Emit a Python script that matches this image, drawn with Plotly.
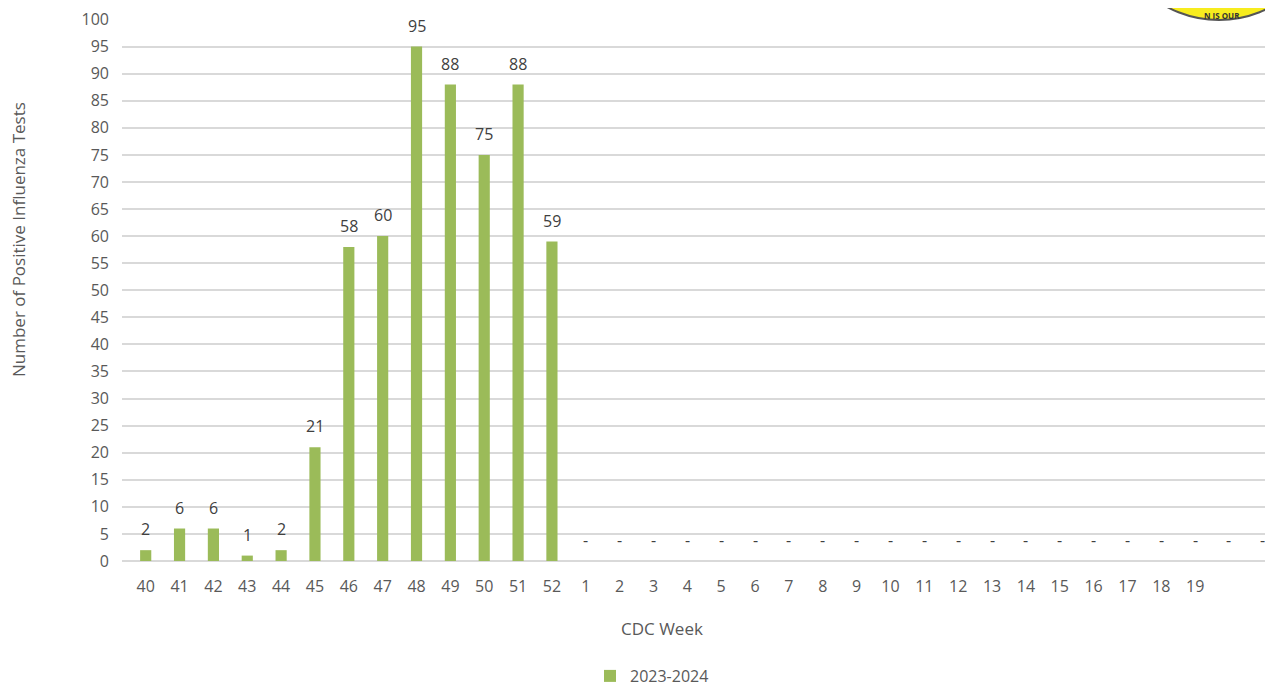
import plotly.graph_objects as go

weeks = ["40","41","42","43","44","45","46","47","48","49","50","51","52",
         "1","2","3","4","5","6","7","8","9","10","11","12","13","14","15","16","17","18","19"," ","  "]
values = [2,6,6,1,2,21,58,60,95,88,75,88,59] + [0]*21
labels = [str(v) if v > 0 else "-" for v in values]
series_name = "2023-2024"

# page body has an 8px margin, so the figure is drawn at (8, 8)
OFF = 8
W, H = 1273 - OFF, 686 - OFF
L, R, T, B = 122 - OFF, 0, 19 - OFF, 125
pw, ph = W - L - R, H - T - B

def px_x(x):  # x in reference (window) pixels
    return (x - OFF - L) / pw

def px_y(y):
    return (H - B - (y - OFF)) / ph

grey = "#595959"
font = "Open Sans, Liberation Sans, sans-serif"

fig = go.Figure()
fig.add_trace(go.Bar(
    x=list(range(len(weeks))), y=values, name=series_name,
    marker=dict(color="#9BBB59", line=dict(width=0)),
))

for i, (v, lab) in enumerate(zip(values, labels)):
    fig.add_annotation(x=i, y=v, text=lab, showarrow=False, yshift=21,
                       xref="x", yref="y", yanchor="middle",
                       font=dict(size=16, color="#404040", family=font))

fig.update_layout(
    width=W, height=H,
    margin=dict(l=L, r=R, t=T, b=B, autoexpand=False),
    plot_bgcolor="white", paper_bgcolor="white",
    bargap=0.67,
    font=dict(family=font, color=grey, size=16),
    showlegend=True,
    legend=dict(orientation="h", xref="container", yref="container",
                x=(652 - OFF) / W, xanchor="center", y=(H - (676 - OFF)) / H, yanchor="middle",
                font=dict(size=16, color=grey), itemwidth=30),
    xaxis=dict(
        tickmode="array", tickvals=list(range(len(weeks))), ticktext=weeks,
        range=[-0.7, 33.3], showgrid=False, zeroline=False, showline=False,
        ticks="", ticklabelstandoff=14, tickfont=dict(size=16, color=grey),
        automargin=False,
    ),
    yaxis=dict(
        range=[0, 100.1], tickmode="linear", tick0=0, dtick=5,
        showgrid=True, gridcolor="#D9D9D9", gridwidth=2,
        zeroline=True, zerolinecolor="#D9D9D9", zerolinewidth=2, showline=False,
        ticks="", ticklabelstandoff=12, ticklabeloverflow="allow",
        tickfont=dict(size=16, color=grey), automargin=False,
    ),
)

fig.add_annotation(text="Number of Positive Influenza Tests", textangle=-90,
                   xref="paper", yref="paper", x=px_x(18), y=px_y(240),
                   xanchor="center", yanchor="middle",
                   showarrow=False, font=dict(size=17, color=grey))
fig.add_annotation(text="CDC Week", xref="paper", yref="paper",
                   x=px_x(662), y=px_y(628), xanchor="center", yanchor="middle",
                   showarrow=False, font=dict(size=17, color=grey))

# partial logo at top right
fig.add_shape(type="circle", xref="paper", yref="paper",
              x0=px_x(1109), x1=px_x(1329), y0=px_y(20), y1=px_y(-200),
              fillcolor="#F7EC1E", line=dict(color="#555555", width=2), layer="below")
fig.add_annotation(text="<b>N IS OUR</b>", xref="paper", yref="paper",
                   x=px_x(1222), y=px_y(15), xanchor="center", yanchor="middle",
                   showarrow=False, font=dict(size=8, color="#333333"))

fig.write_html("out.html")
